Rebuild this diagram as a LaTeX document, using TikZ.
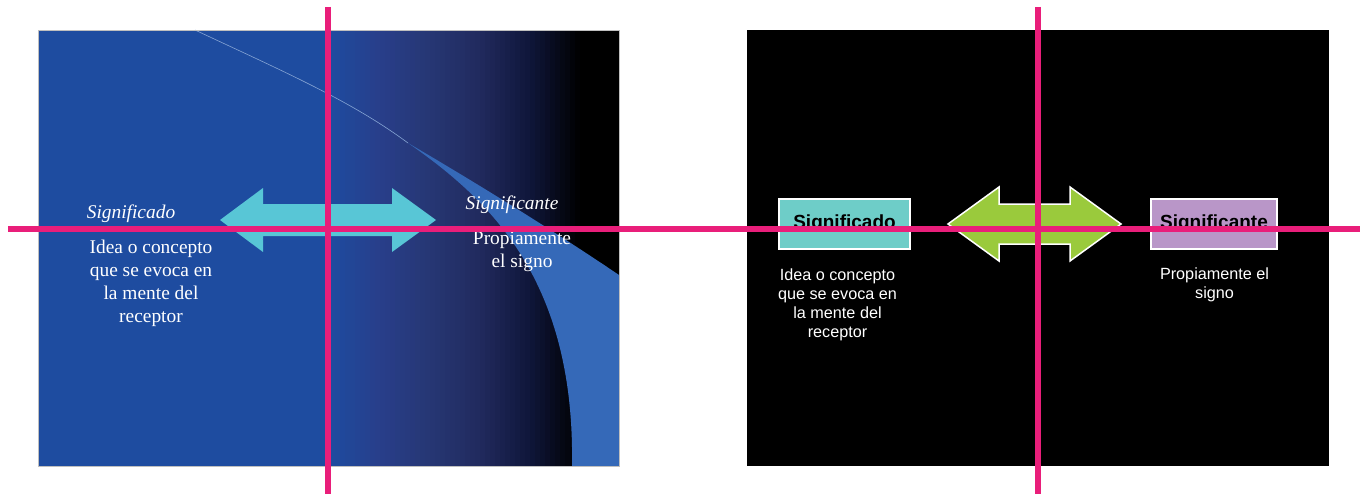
\documentclass[tikz,border=0pt]{standalone}
\usepackage{fontspec}
\newfontfamily\serifA{Liberation Serif}
\newfontfamily\sansA{Liberation Sans}
\definecolor{pinkline}{RGB}{233,30,122}
\definecolor{slideblue}{RGB}{30,76,160}
\definecolor{gradA}{RGB}{40,62,138}
\definecolor{gradB}{RGB}{38,55,116}
\definecolor{gradC}{RGB}{33,42,94}
\definecolor{gradD}{RGB}{15,22,58}
\definecolor{bandblue}{RGB}{53,105,184}
\definecolor{arrowcyan}{RGB}{88,198,214}
\definecolor{arrowgreen}{RGB}{154,202,60}
\definecolor{boxteal}{RGB}{110,205,200}
\definecolor{boxlav}{RGB}{185,150,200}
\tikzset{
  serifital/.style={text=white, inner sep=0pt, font=\serifA\itshape\fontsize{19.4}{23}\selectfont},
  seriftext/.style={text=white, inner sep=0pt, align=center, font=\serifA\fontsize{19.4}{23}\selectfont},
  sanstext/.style={text=white, inner sep=0pt, align=center, font=\sansA\fontsize{16.2}{19}\selectfont},
  termbox/.style={draw=white, line width=2pt, minimum height=50pt, inner sep=0pt, font=\sansA\bfseries\fontsize{19}{22}\selectfont, text=black},
  guide/.style={draw=pinkline, line width=6pt}
}
\begin{document}
\begin{tikzpicture}[x=1pt,y=-1pt]
\useasboundingbox (0,0) rectangle (1364,495);
\fill[white] (0,0) rectangle (1364,495);
% left slide
\begin{scope}
\clip (38,30) rectangle (619,466);
\fill[slideblue] (38,30) rectangle (331,466);
\foreach \ca/\cb/\xs in {slideblue/gradA/330, gradA/gradB/380, gradB/gradC/430, gradC/gradD/480, gradD/black/530} {
  \foreach \k in {0,...,9} {
    \pgfmathtruncatemacro\pc{\k*10+5}
    \fill[\cb!\pc!\ca] (\xs+\k*5,30) rectangle (\xs+\k*5+5.6,466);
  }
}
\fill[black] (580,30) rectangle (619,466);
% curved band
\fill[bandblue] (408,143) .. controls (480,185) and (560,235) .. (619,275)
  -- (619,466) -- (572,466) .. controls (575,280) and (490,200) .. (408,143) -- cycle;
\draw[bandblue!60!white, line width=0.6pt] (195,30) .. controls (280,70) and (350,100) .. (408,143);
\end{scope}
\draw[black!25, line width=0.6pt] (38,30) rectangle (619,466);
% cyan double arrow
\fill[arrowcyan] (220,220) -- (263,188) -- (263,204) -- (392,204) -- (392,188) -- (436,220)
  -- (392,252) -- (392,236) -- (263,236) -- (263,252) -- cycle;
\node[serifital, anchor=base] (lsdo) at (131,218) {Significado};
\node[seriftext, anchor=base] (ldesc) at (151,322) {Idea o concepto\\que se evoca en\\la mente del\\receptor};
\node[serifital, anchor=base] (lste) at (512,209) {Significante};
\node[seriftext, anchor=base] (lsign) at (522,267) {Propiamente\\el signo};
% right slide
\fill[black] (747,30) rectangle (1329,466);
\draw[white, line width=1.5pt, fill=arrowgreen] (948,224) -- (999,187) -- (999,204) -- (1070,204) -- (1070,187) -- (1121,224)
  -- (1070,261) -- (1070,244) -- (999,244) -- (999,261) -- cycle;
\node[termbox, fill=boxteal, minimum width=131pt] (rsdo) at (844.5,224) {Significado};
\node[termbox, fill=boxlav, minimum width=126pt] (rste) at (1214,224) {Significante};
\node[sanstext, anchor=base] (rdesc) at (837.5,337) {Idea o concepto\\que se evoca en\\la mente del\\receptor};
\node[sanstext, anchor=base] (rsign) at (1214.5,298) {Propiamente el\\signo};
% pink guide lines
\draw[guide] (8,229) -- (1360,229);
\draw[guide] (328,7) -- (328,494);
\draw[guide] (1038,7) -- (1038,494);
\end{tikzpicture}
\end{document}
